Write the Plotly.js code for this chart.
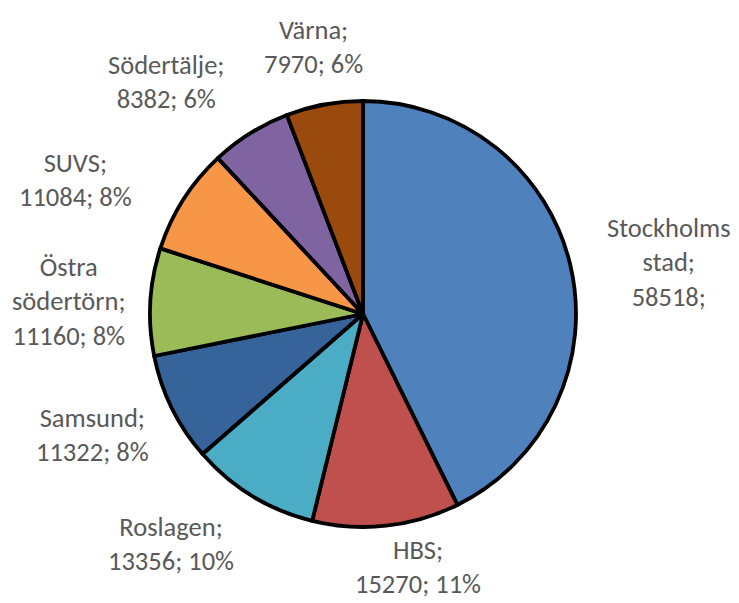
<!DOCTYPE html>
<html>
<head>
<meta charset="utf-8">
<script src="https://cdn.plot.ly/plotly-3.0.1.min.js"></script>
<style>
  html, body { margin: 0; padding: 0; background: #ffffff; }
  #chart { width: 739px; height: 603px; }
</style>
</head>
<body>
<div id="chart"></div>
<script>
// ---- Data ----
const categories = ["Stockholms stad", "HBS", "Roslagen", "Samsund", "Östra södertörn", "SUVS", "Södertälje", "Värna"];
const displayNames = ["Stockholms<br>stad", "HBS", "Roslagen", "Samsund", "Östra<br>södertörn", "SUVS", "Södertälje", "Värna"];
const values = [58518, 15270, 13356, 11322, 11160, 11084, 8382, 7970];
const showPercent = [false, true, true, true, true, true, true, true];
const sliceColors = ["#4F81BD", "#C0504D", "#4BACC6", "#36649A", "#9BBB59", "#F79646", "#8064A2", "#994A0C"];

// ---- Layout-only label placement (pixel centres of each data label block) ----
const W = 739, H = 603;
const labelCenters = [[669, 262], [418, 567], [171, 544], [92, 435], [69, 301], [75, 180], [166, 82], [313, 47]];

const total = values.reduce((a, b) => a + b, 0);
const labelTexts = categories.map((c, i) => {
  const pct = Math.round(values[i] / total * 100) + "%";
  return displayNames[i] + ";<br>" + values[i] + ";" + (showPercent[i] ? " " + pct : "");
});

const annotations = labelTexts.map((t, i) => ({
  text: t,
  x: labelCenters[i][0] / W,
  y: 1 - labelCenters[i][1] / H,
  xref: "paper", yref: "paper",
  xanchor: "center", yanchor: "middle",
  align: "center",
  showarrow: false,
  borderpad: 0,
  font: { family: "Carlito, Lato, 'Open Sans', sans-serif", size: 26.5, color: "#595959" }
}));

const trace = {
  type: "pie",
  labels: categories,
  values: values,
  sort: false,
  direction: "clockwise",
  rotation: 0,
  textinfo: "none",
  hoverinfo: "label+value+percent",
  marker: { colors: sliceColors, line: { color: "#000000", width: 3.8 } },
  domain: { x: [(363 - 213) / W, (363 + 213) / W], y: [1 - 527 / H, 1 - 101 / H] },
  showlegend: false
};

const layout = {
  width: W, height: H,
  margin: { l: 0, r: 0, t: 0, b: 0 },
  paper_bgcolor: "#ffffff",
  plot_bgcolor: "#ffffff",
  showlegend: false,
  annotations: annotations
};

Plotly.newPlot("chart", [trace], layout, { displayModeBar: false, staticPlot: true });
</script>
</body>
</html>
